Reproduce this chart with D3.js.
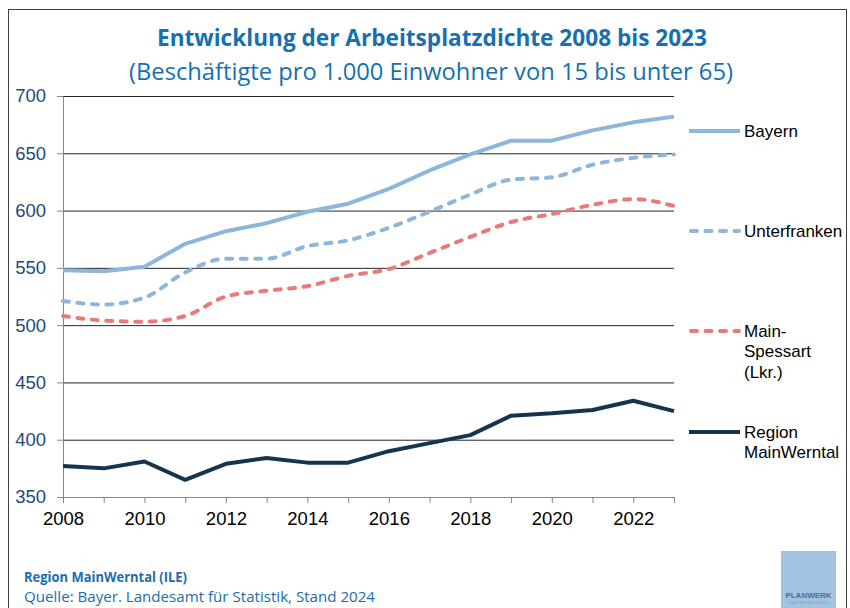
<!DOCTYPE html>
<html>
<head>
<meta charset="utf-8">
<script src="https://cdn.jsdelivr.net/npm/d3@7"></script>
<style>
    body { margin: 0; background: #fff; }
    svg { display: block; }
</style>
</head>
<body>
<script>
// Arbeitsplatzdichte 2008 - 2023
var years = [2008, 2009, 2010, 2011, 2012, 2013, 2014, 2015,
             2016, 2017, 2018, 2019, 2020, 2021, 2022, 2023];
var bayern = [548, 547, 551, 571, 582, 589, 599, 606,
              619, 635, 649, 661, 661, 670, 677, 682];
var unterfranken = [521, 518, 524, 546, 558, 558, 569, 574,
                    585, 599, 614, 627, 629, 640, 646, 649];
var mainSpessart = [508, 504, 503, 508, 525, 530, 534, 543,
                    549, 563, 577, 590, 597, 605, 610, 604];
var mainWerntal = [377, 375, 381, 365, 379, 384, 380, 380,
                   390, 397, 404, 421, 423, 426, 434, 425];
var yTicks = [350, 400, 450, 500, 550, 600, 650, 700];
var seriesNames = ["Bayern", "Unterfranken", "Main-Spessart (Lkr.)",
                   "Region MainWerntal"];

var W = 850, H = 608;
var plot = {left: 63, right: 674, top: 96, bottom: 497};

var svg = d3.select("body").append("svg")
    .attr("width", W)
    .attr("height", H);

// outer frame
svg.append("rect")
    .attr("x", 8.5).attr("y", 9.5)
    .attr("width", 838).attr("height", 620)
    .attr("fill", "none")
    .attr("stroke", "#404040")
    .attr("stroke-width", 1);

// title and subtitle
svg.append("text")
    .text("Entwicklung der Arbeitsplatzdichte 2008 bis 2023")
    .attr("x", 157).attr("y", 46)
    .attr("textLength", 550)
    .attr("lengthAdjust", "spacingAndGlyphs")
    .attr("font-family", "Open Sans")
    .attr("font-weight", "bold")
    .attr("font-size", "23px")
    .attr("fill", "#1670b0");

svg.append("text")
    .text("(Beschäftigte pro 1.000 Einwohner von 15 bis unter 65)")
    .attr("x", 129).attr("y", 80)
    .attr("textLength", 604)
    .attr("lengthAdjust", "spacingAndGlyphs")
    .attr("font-family", "Open Sans")
    .attr("font-size", "23px")
    .attr("fill", "#1670b0");

// scales
var x = d3.scaleLinear().domain([2008, 2023])
    .range([plot.left, plot.right]);
var y = d3.scaleLinear().domain([350, 700])
    .range([plot.bottom, plot.top]);

// gridlines
var grid = svg.append("g")
    .attr("transform", "translate(" + plot.left + ",0)")
    .call(d3.axisLeft(y).tickValues(yTicks.slice(1))
        .tickSize(-(plot.right - plot.left)).tickFormat(""));
grid.select(".domain").remove();
grid.selectAll("line").attr("stroke", "#262626").attr("stroke-width", 1);

// y axis
var yAxis = svg.append("g")
    .attr("transform", "translate(" + plot.left + ",0)")
    .call(d3.axisLeft(y).tickValues(yTicks).tickSize(6).tickPadding(11)
        .tickSizeOuter(0));
yAxis.select(".domain").attr("stroke", "#868686");
yAxis.selectAll("line").attr("stroke", "#868686");
yAxis.selectAll("text")
    .attr("font-family", "Liberation Sans, Arial, sans-serif")
    .attr("font-size", "18.5px")
    .attr("fill", "#1f497d");

// x axis
var xAxis = svg.append("g")
    .attr("transform", "translate(0," + plot.bottom + ")")
    .call(d3.axisBottom(x).tickValues(years).tickSize(6).tickPadding(9)
        .tickSizeOuter(0)
        .tickFormat(function (d) { return d % 2 === 0 ? d : ""; }));
xAxis.select(".domain").attr("stroke", "#868686");
xAxis.selectAll("line").attr("stroke", "#868686");
xAxis.selectAll("text")
    .attr("font-family", "Liberation Sans, Arial, sans-serif")
    .attr("font-size", "18.5px")
    .attr("fill", "#000");

// lines
var series = [
    {name: seriesNames[0], values: bayern, color: "#8db6dc", dash: null,
     curve: d3.curveLinear},
    {name: seriesNames[1], values: unterfranken, color: "#8db6dc",
     dash: "6,8.5", curve: d3.curveMonotoneX},
    {name: seriesNames[2], values: mainSpessart, color: "#e97a7a",
     dash: "6,8.5", curve: d3.curveMonotoneX},
    {name: seriesNames[3], values: mainWerntal, color: "#17344f", dash: null,
     curve: d3.curveLinear}
];

series.forEach(function (s) {
    var line = d3.line()
        .x(function (d, i) { return x(years[i]); })
        .y(function (d) { return y(d); })
        .curve(s.curve);
    svg.append("path")
        .datum(s.values)
        .attr("d", line)
        .attr("fill", "none")
        .attr("stroke", s.color)
        .attr("stroke-width", 4)
        .attr("stroke-linecap", s.dash ? "round" : "butt")
        .attr("stroke-linejoin", "round")
        .attr("stroke-dasharray", s.dash);
});

// legend
var legendY = [131, 231, 331, 432];
var legendLines = [["Bayern"], ["Unterfranken"],
                   ["Main-", "Spessart", "(Lkr.)"],
                   ["Region", "MainWerntal"]];

series.forEach(function (s, i) {
    var g = svg.append("g")
        .attr("transform", "translate(0," + legendY[i] + ")");
    g.append("line")
        .attr("x1", s.dash ? 691 : 689).attr("x2", s.dash ? 739 : 740)
        .attr("stroke", s.color)
        .attr("stroke-width", 4)
        .attr("stroke-linecap", s.dash ? "round" : "butt")
        .attr("stroke-dasharray", s.dash);
    g.selectAll("text")
        .data(legendLines[i])
        .enter()
        .append("text")
        .text(function (d) { return d; })
        .attr("x", 744)
        .attr("y", function (d, j) { return j * 20.5; })
        .attr("dy", "0.35em")
        .attr("font-family", "Liberation Sans, Arial, sans-serif")
        .attr("font-size", "17px")
        .attr("fill", "#000");
});

// footer
svg.append("text")
    .text("Region MainWerntal (ILE)")
    .attr("x", 24).attr("y", 582)
    .attr("font-family", "Open Sans")
    .attr("font-weight", "bold")
    .attr("font-size", "14px")
    .attr("textLength", 163)
    .attr("lengthAdjust", "spacingAndGlyphs")
    .attr("fill", "#1a6dae");

svg.append("text")
    .text("Quelle: Bayer. Landesamt für Statistik, Stand 2024")
    .attr("x", 24).attr("y", 602)
    .attr("font-family", "Open Sans")
    .attr("font-size", "14px")
    .attr("textLength", 351)
    .attr("lengthAdjust", "spacingAndGlyphs")
    .attr("fill", "#1a6dae");

// logo
svg.append("rect")
    .attr("x", 781).attr("y", 551)
    .attr("width", 55).attr("height", 57)
    .attr("fill", "#a3c3e3");
svg.append("text")
    .text("PLANWERK")
    .attr("x", 808.5).attr("y", 598)
    .attr("text-anchor", "middle")
    .attr("font-family", "Liberation Sans Narrow, Liberation Sans, sans-serif")
    .attr("font-weight", "bold")
    .attr("font-size", "8px")
    .attr("fill", "#4a6f93");
svg.append("text")
    .text("STADTENTWICKLUNG")
    .attr("x", 808.5).attr("y", 604)
    .attr("text-anchor", "middle")
    .attr("font-family", "Liberation Sans Narrow, Liberation Sans, sans-serif")
    .attr("font-size", "4px")
    .attr("fill", "#7f9fc0");
</script>
</body>
</html>
